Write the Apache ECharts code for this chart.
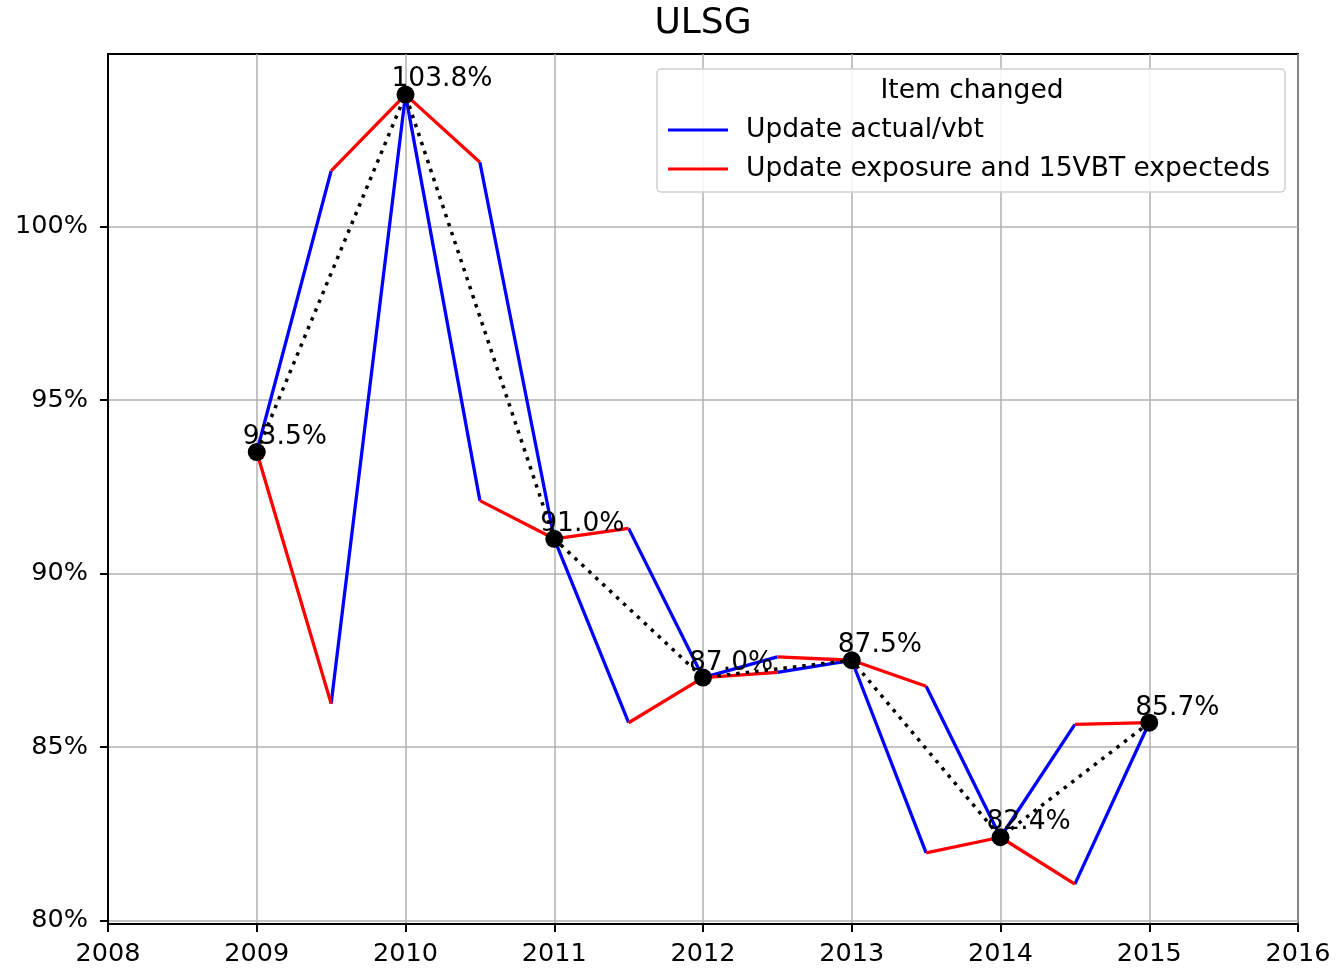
<!DOCTYPE html>
<html>
<head>
<meta charset="utf-8">
<script src="https://cdn.jsdelivr.net/npm/echarts@6/dist/echarts.min.js"></script>
<style>
  html, body { margin: 0; padding: 0; background: #ffffff; }
  #chart { width: 1336px; height: 970px; }
</style>
</head>
<body>
<div id="chart"></div>
<script>
// ---- data ----
var years = [2009, 2010, 2011, 2012, 2013, 2014, 2015];
var totals = [93.5, 103.8, 91.0, 87.0, 87.5, 82.4, 85.7];
// intermediate value half-way between years when "Update actual/vbt" (blue) is applied first
var blueFirstMid = [101.6, 92.1, 85.7, 87.6, 81.95, 85.65];
// intermediate value when "Update exposure and 15VBT expecteds" (red) is applied first
var redFirstMid = [86.25, 101.85, 91.3, 87.15, 86.75, 81.05];
var xTicks = [2008, 2009, 2010, 2011, 2012, 2013, 2014, 2015, 2016];
var yTicks = [80, 85, 90, 95, 100];
var seriesNames = ['Update actual/vbt', 'Update exposure and 15VBT expecteds'];
var legendTitle = 'Item changed';
var chartTitle = 'ULSG';

// ---- build segment series ----
var blueData = [], redData = [];
for (var i = 0; i < years.length - 1; i++) {
  var x0 = years[i], x1 = years[i + 1], xm = (x0 + x1) / 2;
  // blue-first path: blue then red
  blueData.push([x0, totals[i]], [xm, blueFirstMid[i]], '-');
  redData.push([xm, blueFirstMid[i]], [x1, totals[i + 1]], '-');
  // red-first path: red then blue
  redData.push([x0, totals[i]], [xm, redFirstMid[i]], '-');
  blueData.push([xm, redFirstMid[i]], [x1, totals[i + 1]], '-');
}
var totalData = years.map(function (y, k) { return [y, totals[k]]; });

var FONT = 'DejaVu Sans';
var chart = echarts.init(document.getElementById('chart'));
chart.setOption({
  animation: false,
  backgroundColor: '#ffffff',
  textStyle: { fontFamily: FONT },
  title: {
    text: chartTitle,
    left: 703,
    top: 6,
    padding: 0,
    textAlign: 'center',
    textStyle: { fontFamily: FONT, fontSize: 36, fontWeight: 'normal', color: '#000' }
  },
  grid: {
    left: 108, right: 38, top: 54, bottom: 46,
    show: true, borderColor: '#000', borderWidth: 2, backgroundColor: 'transparent'
  },
  xAxis: {
    type: 'value',
    min: xTicks[0], max: xTicks[xTicks.length - 1], interval: 1,
    axisLine: { show: true, lineStyle: { color: '#000', width: 2 } },
    axisTick: { show: true, inside: false, length: 8, lineStyle: { color: '#000', width: 2 } },
    axisLabel: { margin: 17, fontSize: 25.5, color: '#000', fontFamily: FONT, formatter: function (v) { return String(v); } },
    splitLine: { show: true, lineStyle: { color: '#b0b0b0', width: 1.5 } }
  },
  yAxis: {
    type: 'value',
    min: 79.9, max: 104.97,
    axisLine: { show: true, lineStyle: { color: '#000', width: 2 } },
    axisTick: { show: true, inside: false, length: 8, customValues: yTicks, lineStyle: { color: '#000', width: 2 } },
    axisLabel: { margin: 20, fontSize: 25.5, color: '#000', fontFamily: FONT, customValues: yTicks,
      formatter: function (v) { return v + '%'; } },
    splitLine: { show: true, lineStyle: { color: '#b0b0b0', width: 1.5 } }
  },
  legend: {
    data: seriesNames,
    orient: 'vertical',
    left: 668, top: 115,
    padding: 0,
    itemGap: 9,
    itemWidth: 60, itemHeight: 3,
    icon: 'rect',
    z: 5,
    textStyle: { fontFamily: FONT, fontSize: 26.5, lineHeight: 30, color: '#000', padding: [0, 0, 0, 13] }
  },
  graphic: {
    elements: [
      {
        type: 'rect', z: 3, silent: true,
        shape: { x: 657, y: 69, width: 628, height: 123, r: 4 },
        style: { fill: 'rgba(255,255,255,0.85)', stroke: '#d0d0d0', lineWidth: 1.5 }
      },
      {
        type: 'text', z: 4, silent: true,
        x: 972, y: 91,
        style: { text: legendTitle, fontFamily: FONT, fontSize: 26.5, fill: '#000', align: 'center', verticalAlign: 'middle' }
      }
    ]
  },
  series: [
    {
      name: seriesNames[0], type: 'line', data: blueData, color: '#0000ff',
      showSymbol: false, connectNulls: false, z: 2,
      lineStyle: { color: '#0000ff', width: 3.3 }
    },
    {
      name: seriesNames[1], type: 'line', data: redData, color: '#ff0000',
      showSymbol: false, connectNulls: false, z: 2,
      lineStyle: { color: '#ff0000', width: 3.3 }
    },
    {
      name: 'total', type: 'line', data: totalData, z: 3,
      symbol: 'circle', symbolSize: 18,
      itemStyle: { color: '#000' },
      lineStyle: { color: '#000', width: 3.5, type: [3.5, 6] },
      label: {
        show: true, position: [-5, -6], align: 'left', verticalAlign: 'middle',
        fontFamily: FONT, fontSize: 26.5, color: '#000',
        formatter: function (p) { return p.value[1].toFixed(1) + '%'; }
      }
    }
  ]
});
</script>
</body>
</html>
